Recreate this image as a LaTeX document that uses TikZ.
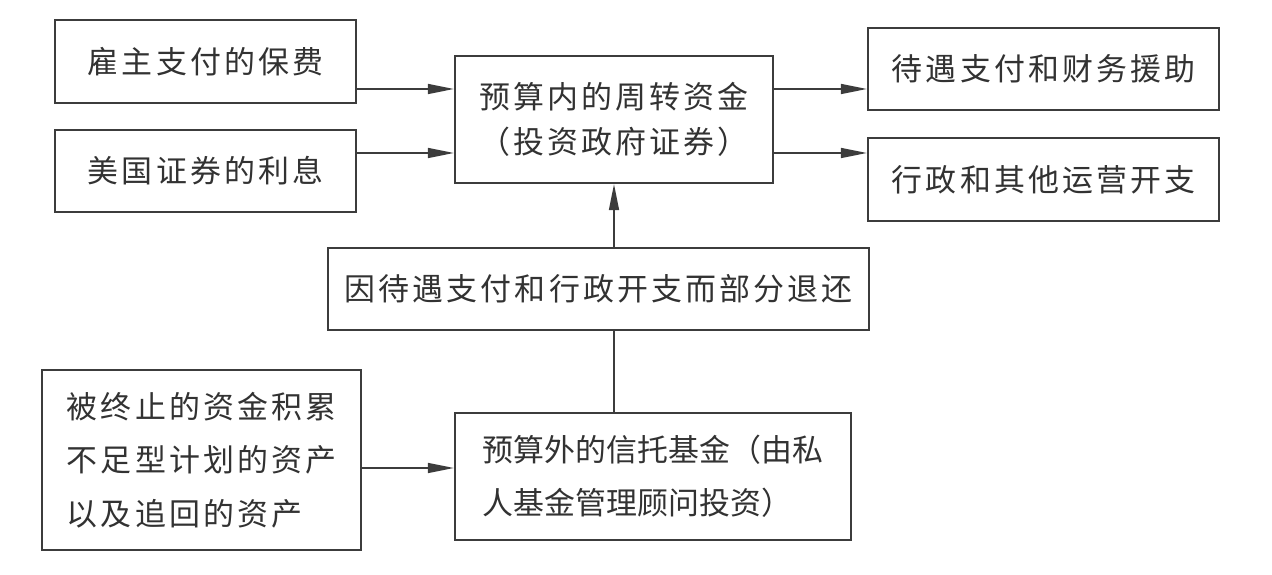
\documentclass[tikz,border=0pt]{standalone}
\usepackage{fontspec}
\newfontfamily\cjk{Noto Sans CJK SC}
\newfontfamily\cjkwide{Noto Sans CJK SC}[LetterSpace=10]
\definecolor{BoxGray}{RGB}{60,60,60}
\definecolor{InkGray}{RGB}{50,50,50}
\usetikzlibrary{
    arrows.meta,
    positioning,
    calc,
}

\begin{document}
\begin{tikzpicture}[
    fund/.style={rectangle, draw=BoxGray, line width=1.6pt, text=InkGray, minimum width=7.525cm, minimum height=2.05cm, inner sep=0pt, font=\fontsize{22}{38}\selectfont\cjkwide},
    flow/.style={-{Triangle[length=0.65cm, width=0.25cm]}, draw=BoxGray, line width=1.1pt},
    link/.style={draw=BoxGray, line width=1.1pt}
]
    \useasboundingbox (0, 0) rectangle (31.8, 14.375);
    \node[fund, minimum height=2.075cm] (premium) at (5.1375, 12.8375) {雇主支付的保费};
    \node[fund] (interest) at (5.1375, 10.1) {美国证券的利息};
    \node[fund, minimum width=7.95cm, minimum height=3.175cm, align=center] (revolving) at (15.35, 11.3875) {\raisebox{-0.12cm}{\shortstack{预算内的周转资金\\[0.3cm]（投资政府证券）}}};
    \node[fund, minimum width=8.775cm] (benefits) at (26.0875, 12.65) {待遇支付和财务援助};
    \node[fund, minimum width=8.775cm, minimum height=2.075cm] (admin) at (26.0875, 9.8875) {行政和其他运营开支};
    \node[fund, minimum width=13.525cm] (refund) at (14.9625, 7.15) {因待遇支付和行政开支而部分退还};
    \node[fund, minimum width=7.975cm, minimum height=4.5cm, align=left] (terminated) at (5.0375, 2.875) {被终止的资金积累\\不足型计划的资产\\以及追回的资产};
    \node[fund, minimum width=9.9cm, minimum height=3.175cm, align=left, font=\fontsize{22}{38}\selectfont\cjk] (trust) at (16.325, 2.4625) {预算外的信托基金（由私\\人基金管理顾问投资）};
    \coordinate (upper) at (0, 12.15);
    \coordinate (lower) at (0, 10.55);
    \coordinate (feed) at (0, 2.675);
    \draw[flow] (premium.east |- upper) -- (revolving.west |- upper);
    \draw[flow] (interest.east |- lower) -- (revolving.west |- lower);
    \draw[flow] (revolving.east |- upper) -- (benefits.west |- upper);
    \draw[flow] (revolving.east |- lower) -- (admin.west |- lower);
    \draw[flow] (refund.north -| revolving.south) -- (revolving.south);
    \draw[link] (trust.north -| revolving.south) -- (refund.south -| revolving.south);
    \draw[flow] (terminated.east |- feed) -- (trust.west |- feed);
\end{tikzpicture}
\end{document}
